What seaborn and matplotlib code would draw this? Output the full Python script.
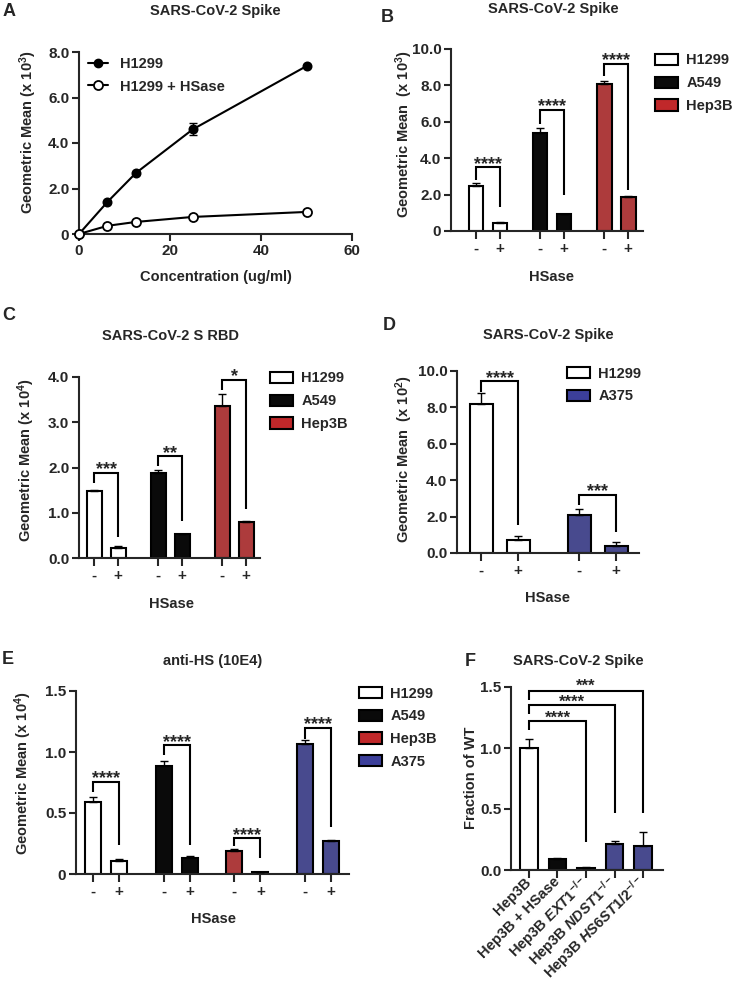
import numpy as np
import pandas as pd
import matplotlib
matplotlib.use("Agg")
import matplotlib.pyplot as plt
import matplotlib.transforms as mtransforms
from matplotlib.patches import Patch
from matplotlib.lines import Line2D
import seaborn as sns

sns.set_style("ticks")
plt.rcParams['font.family'] = ['Liberation Sans', 'DejaVu Sans']
plt.rcParams['font.weight'] = 'bold'
plt.rcParams['axes.labelweight'] = 'bold'
plt.rcParams['mathtext.fontset'] = 'custom'
plt.rcParams['mathtext.rm'] = 'Liberation Sans:bold'
plt.rcParams['mathtext.it'] = 'Liberation Sans:italic:bold'
plt.rcParams['mathtext.bf'] = 'Liberation Sans:bold'

# ---------------- data ----------------
# Panel A
a_conc = [0, 6.25, 12.5, 25, 50]
a_h1299 = [0, 1.41, 2.68, 4.6, 7.38]
a_h1299_err = [0, 0, 0, 0.27, 0]
a_hsase = [0, 0.36, 0.53, 0.75, 0.97]

# Panel B
b_lines = ["H1299", "A549", "Hep3B"]
b_minus = [2.5, 5.4, 8.08]
b_minus_err = [0.13, 0.25, 0.16]
b_plus = [0.44, 0.93, 1.87]
b_plus_err = [0.06, 0.03, 0.08]
b_stars = ["****", "****", "****"]
b_br_top = [3.5, 6.65, 9.2]
b_br_left = [2.8, 5.9, 8.5]
b_br_right = [1.3, 2.0, 2.25]
b_star_y = [4.0, 7.15, 9.7]

# Panel C
c_lines = ["H1299", "A549", "Hep3B"]
c_minus = [1.48, 1.87, 3.36]
c_minus_err = [0.02, 0.08, 0.26]
c_plus = [0.21, 0.53, 0.8]
c_plus_err = [0.06, 0.01, 0.01]
c_stars = ["***", "**", "*"]
c_br_top = [1.88, 2.25, 3.93]
c_br_left = [1.65, 2.03, 3.71]
c_br_right = [0.47, 0.82, 1.08]
c_star_y = [2.08, 2.45, 4.13]

# Panel D
d_lines = ["H1299", "A375"]
d_minus = [8.2, 2.1]
d_minus_err = [0.6, 0.3]
d_plus = [0.7, 0.4]
d_plus_err = [0.25, 0.2]
d_stars = ["****", "***"]
d_br_top = [9.45, 3.2]
d_br_left = [8.85, 2.65]
d_br_right = [1.55, 1.15]
d_star_y = [9.9, 3.68]

# Panel E
e_lines = ["H1299", "A549", "Hep3B", "A375"]
e_minus = [0.59, 0.885, 0.19, 1.065]
e_minus_err = [0.045, 0.04, 0.012, 0.035]
e_plus = [0.107, 0.13, 0.015, 0.27]
e_plus_err = [0.013, 0.02, 0.003, 0.01]
e_stars = ["****", "****", "****", "****"]
e_br_top = [0.755, 1.057, 0.295, 1.197]
e_br_left = [0.67, 0.975, 0.23, 1.11]
e_br_right = [0.24, 0.24, 0.13, 0.385]
e_star_y = [0.83, 1.13, 0.36, 1.27]

# Panel F
f_labels = ["Hep3B", "Hep3B + HSase", r"Hep3B $\mathit{EXT1}^{\mathbf{-/-}}$",
            r"Hep3B $\mathit{NDST1}^{\mathbf{-/-}}$", r"Hep3B $\mathit{HS6ST1/2}^{\mathbf{-/-}}$"]
f_vals = [1.0, 0.09, 0.02, 0.21, 0.2]
f_err = [0.07, 0.01, 0.005, 0.027, 0.11]
f_br_to = [2, 3, 4]
f_stars = ["****", "****", "***"]
f_br_top = [1.22, 1.35, 1.47]
f_br_left = [1.15, 1.28, 1.39]
f_br_right = [0.23, 0.47, 0.47]
f_star_y = [1.29, 1.42, 1.55]

# ---------------- styling ----------------
COLORS = {"H1299": "#FFFFFF", "A549": "#0A0A0A", "Hep3B": "#C0282A", "A375": "#3C3F9A"}
F_COLORS = ["#FFFFFF", "#0A0A0A", "#0A0A0A", "#3C3F9A", "#3C3F9A"]
FS = 10.5
TICK_FS = 11

W, H = 736, 986
fig = plt.figure(figsize=(W / 100, H / 100), dpi=100)


def px_axes(l, r, t, b):
    return fig.add_axes([l / W, 1 - b / H, (r - l) / W, (b - t) / H])


def ftext(x, y, s, **kw):
    fig.text(x / W, 1 - y / H, s, **kw)


def style(ax):
    sns.despine(ax=ax)
    for s in ["left", "bottom"]:
        ax.spines[s].set_linewidth(1.5)
    ax.tick_params(axis="both", width=1.5, labelsize=TICK_FS)
    ax.tick_params(axis="y", length=5, pad=2)
    ax.tick_params(axis="x", length=6, pad=2)


def set_labels(ax, ylabel, yx, yy, xlabel=None, xx=None, xy=None):
    ax.set_ylabel(ylabel, fontsize=FS, fontweight="bold")
    ax.yaxis.set_label_coords(yx / W, 1 - yy / H, transform=fig.transFigure)
    if xlabel is not None:
        ax.set_xlabel(xlabel, fontsize=FS, fontweight="bold")
        ax.xaxis.set_label_coords(xx / W, 1 - xy / H, transform=fig.transFigure)


def bar_legend(ax, lines, x, y):
    handles = [Patch(facecolor=COLORS[l], edgecolor="black", linewidth=1.5) for l in lines]
    ax.legend(handles, lines, loc="upper left", bbox_to_anchor=(x / W, 1 - y / H),
              bbox_transform=fig.transFigure, frameon=False, borderpad=0, borderaxespad=0,
              handlelength=1.55, handleheight=0.8, handletextpad=0.6, labelspacing=0.6,
              prop={"weight": "bold", "size": FS})


def brackets(ax, x1s, x2s, tops, lefts, rights, stars, star_y, fs=13):
    for x1, x2, t, l, r, s, sy in zip(x1s, x2s, tops, lefts, rights, stars, star_y):
        ax.plot([x1, x1, x2, x2], [l, t, t, r], color="black", lw=1.5, clip_on=False,
                solid_joinstyle="miter", solid_capstyle="butt")
        tr = mtransforms.offset_copy(ax.transData, fig=fig, y=-0.58 * fs, units="points")
        ax.text((x1 + x2) / 2, sy, s, ha="center", va="baseline", fontsize=fs,
                fontweight="bold", transform=tr, clip_on=False)


def bar_panel(ax, lines, minus, minus_err, plus, plus_err, gap, xlim, ylim, yticks, yticklabels):
    pos, val, err, grp, sign = [], [], [], [], []
    for i, ln in enumerate(lines):
        for k, (v, e) in enumerate(((minus[i], minus_err[i]), (plus[i], plus_err[i]))):
            pos.append(i * gap + k)
            val.append(v)
            err.append(e)
            grp.append(ln)
            sign.append("-+"[k])
    df = pd.DataFrame(dict(pos=pos, val=val, err=err, line=grp, sign=sign))
    sns.barplot(data=df, x="pos", y="val", hue="line", hue_order=lines,
                palette=[COLORS[l] for l in lines], native_scale=True, dodge=False,
                width=0.62, errorbar=None, edgecolor="black", linewidth=1.5,
                legend=False, ax=ax)
    ax.errorbar(df.pos, df.val, yerr=[np.zeros(len(df)), df.err], fmt="none",
                ecolor="black", elinewidth=1, capsize=3, capthick=1, zorder=3)
    style(ax)
    ax.set_xticks(df.pos)
    ax.set_xticklabels(df.sign, fontsize=TICK_FS, fontweight="bold")
    ax.set_xlim(*xlim)
    ax.set_ylim(*ylim)
    ax.set_yticks(yticks)
    ax.set_yticklabels(yticklabels, fontsize=TICK_FS, fontweight="bold")
    x1s = [i * gap for i in range(len(lines))]
    x2s = [i * gap + 1 for i in range(len(lines))]
    return x1s, x2s


# ---------------- Panel A ----------------
axA = px_axes(79, 352, 52, 234)
sns.lineplot(x=a_conc, y=a_h1299, ax=axA, color="black", lw=1.5, marker="o",
             markersize=6, markerfacecolor="black", markeredgecolor="black",
             markeredgewidth=1.2, clip_on=False, zorder=4)
sns.lineplot(x=a_conc, y=a_hsase, ax=axA, color="black", lw=1.5, marker="o",
             markersize=6.5, markerfacecolor="white", markeredgecolor="black",
             markeredgewidth=1.3, clip_on=False, zorder=4)
axA.errorbar(a_conc, a_h1299, yerr=a_h1299_err, fmt="none", ecolor="black",
             elinewidth=1, capsize=3, capthick=1, zorder=3)
style(axA)
axA.set_xlim(0, 60)
axA.set_ylim(0, 8)
axA.set_xticks([0, 20, 40, 60])
axA.set_xticklabels(["0", "20", "40", "60"], fontweight="bold")
axA.set_yticks([0, 2, 4, 6, 8])
axA.set_yticklabels(["0", "2.0", "4.0", "6.0", "8.0"], fontweight="bold")
axA.tick_params(axis="x", length=5)
set_labels(axA, r"Geometric Mean (x 10$^{\mathbf{3}}$)", 39, 132,
           "Concentration (ug/ml)", 216, 270)
hA = [Line2D([], [], color="black", lw=1.5, marker="o", markersize=6, markerfacecolor="black",
             markeredgecolor="black"),
      Line2D([], [], color="black", lw=1.5, marker="o", markersize=6.5, markerfacecolor="white",
             markeredgecolor="black", markeredgewidth=1.3)]
axA.legend(hA, ["H1299", "H1299 + HSase"], loc="upper left", bbox_to_anchor=(88 / W, 1 - 57.5 / H),
           bbox_transform=fig.transFigure, frameon=False, borderpad=0, borderaxespad=0,
           handlelength=1.37, handletextpad=0.8, labelspacing=0.55,
           prop={"weight": "bold", "size": FS})
ftext(3, 12, "A", fontsize=13, fontweight="bold", ha="left", va="center")
ftext(215, 11, "SARS-CoV-2 Spike", fontsize=FS, fontweight="bold", ha="center", va="center")

# ---------------- Panel B ----------------
axB = px_axes(451, 643, 49, 231)
x1, x2 = bar_panel(axB, b_lines, b_minus, b_minus_err, b_plus, b_plus_err, 2.67,
                   (-1.04, 6.96), (0, 10), [0, 2, 4, 6, 8, 10],
                   ["0", "2.0", "4.0", "6.0", "8.0", "10.0"])
brackets(axB, x1, x2, b_br_top, b_br_left, b_br_right, b_stars, b_star_y)
set_labels(axB, r"Geometric Mean  (x 10$^{\mathbf{3}}$)", 415, 134, "HSase", 552, 270)
bar_legend(axB, b_lines, 655, 53.5)
ftext(381, 18, "B", fontsize=13, fontweight="bold", ha="left", va="center")
ftext(553, 9, "SARS-CoV-2 Spike", fontsize=FS, fontweight="bold", ha="center", va="center")

# ---------------- Panel C ----------------
axC = px_axes(79, 260, 377, 558)
x1, x2 = bar_panel(axC, c_lines, c_minus, c_minus_err, c_plus, c_plus_err, 2.67,
                   (-0.63, 6.92), (0, 4), [0, 1, 2, 3, 4],
                   ["0.0", "1.0", "2.0", "3.0", "4.0"])
brackets(axC, x1, x2, c_br_top, c_br_left, c_br_right, c_stars, c_star_y)
set_labels(axC, r"Geometric Mean (x 10$^{\mathbf{4}}$)", 37, 460, "HSase", 171, 597)
bar_legend(axC, c_lines, 270, 371.5)
ftext(2, 315, "C", fontsize=13, fontweight="bold", ha="left", va="center")
ftext(170, 336, "SARS-CoV-2 S RBD", fontsize=FS, fontweight="bold", ha="center", va="center")

# ---------------- Panel D ----------------
axD = px_axes(457, 639, 371, 553)
x1, x2 = bar_panel(axD, d_lines, d_minus, d_minus_err, d_plus, d_plus_err, 2.65,
                   (-0.65, 4.27), (0, 10), [0, 2, 4, 6, 8, 10],
                   ["0.0", "2.0", "4.0", "6.0", "8.0", "10.0"])
brackets(axD, x1, x2, d_br_top, d_br_left, d_br_right, d_stars, d_star_y)
set_labels(axD, r"Geometric Mean  (x 10$^{\mathbf{2}}$)", 415, 459, "HSase", 548, 591)
bar_legend(axD, d_lines, 567, 366.5)
ftext(383, 326, "D", fontsize=13, fontweight="bold", ha="left", va="center")
ftext(548, 335, "SARS-CoV-2 Spike", fontsize=FS, fontweight="bold", ha="center", va="center")

# ---------------- Panel E ----------------
axE = px_axes(76, 349, 691, 874)
x1, x2 = bar_panel(axE, e_lines, e_minus, e_minus_err, e_plus, e_plus_err, 2.72,
                   (-0.65, 9.85), (0, 1.5), [0, 0.5, 1.0, 1.5],
                   ["0", "0.5", "1.0", "1.5"])
brackets(axE, x1, x2, e_br_top, e_br_left, e_br_right, e_stars, e_star_y)
set_labels(axE, r"Geometric Mean (x 10$^{\mathbf{4}}$)", 34, 773, "HSase", 213, 912)
bar_legend(axE, e_lines, 359, 686.5)
ftext(2, 659, "E", fontsize=13, fontweight="bold", ha="left", va="center")
ftext(213, 661, "anti-HS (10E4)", fontsize=FS, fontweight="bold", ha="center", va="center")

# ---------------- Panel F ----------------
axF = px_axes(511, 663, 687, 870)
dfF = pd.DataFrame(dict(label=f_labels, val=f_vals, err=f_err))
sns.barplot(data=dfF, x="label", y="val", hue="label", palette=F_COLORS, width=0.62,
            errorbar=None, edgecolor="black", linewidth=1.5, legend=False, ax=axF)
axF.errorbar(np.arange(len(f_vals)), f_vals, yerr=[np.zeros(len(f_vals)), f_err], fmt="none",
             ecolor="black", elinewidth=1, capsize=3, capthick=1, zorder=3)
style(axF)
axF.set_xlim(-0.63, 4.7)
axF.set_ylim(0, 1.5)
axF.set_yticks([0, 0.5, 1.0, 1.5])
axF.set_yticklabels(["0.0", "0.5", "1.0", "1.5"], fontweight="bold")
axF.set_xticks(range(len(f_labels)))
axF.set_xticklabels(f_labels, rotation=45, ha="right", va="center", rotation_mode="anchor",
                    fontsize=FS, fontweight="bold")
axF.tick_params(axis="x", pad=1)
axF.set_xlabel("")
brackets(axF, [0] * 3, f_br_to, f_br_top, f_br_left, f_br_right, f_stars, f_star_y, fs=12)
set_labels(axF, "Fraction of WT", 478, 778)
ftext(465, 661, "F", fontsize=13, fontweight="bold", ha="left", va="center")
ftext(578, 661, "SARS-CoV-2 Spike", fontsize=FS, fontweight="bold", ha="center", va="center")

fig.savefig("out.png", dpi=100)
